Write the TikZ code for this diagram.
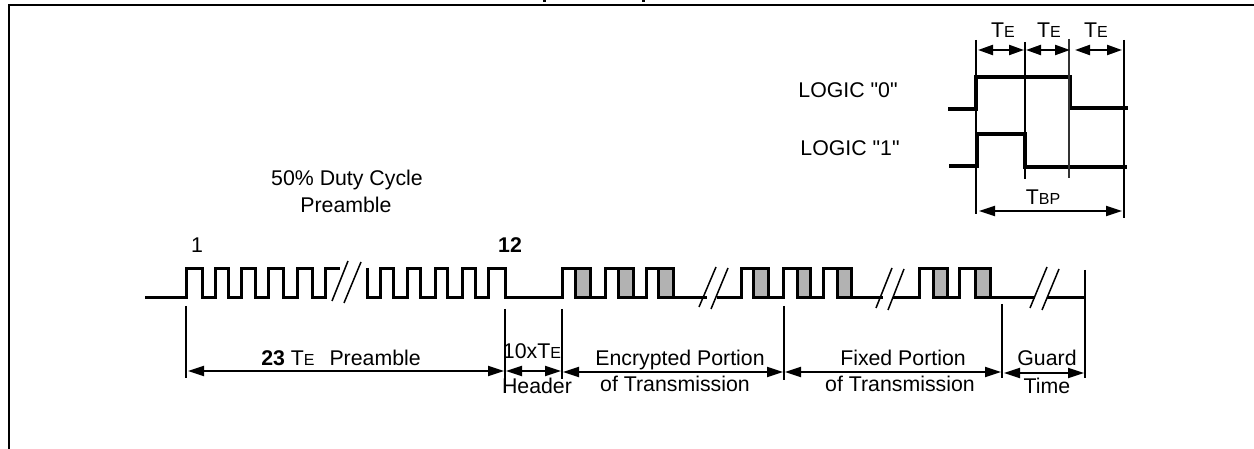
\documentclass[tikz,border=0pt]{standalone}
\usepackage{fontspec}
\setmainfont{Liberation Sans}
\newfontfamily\rawfont{Liberation Sans}
\usetikzlibrary{arrows.meta}
\newcommand{\subE}[1]{T{\fontsize{16}{16}\selectfont #1}}
\newcommand{\dq}{{\rawfont\symbol{34}}}
\tikzset{
  x=1pt,y=-1pt,
  lab/.style={inner sep=0pt,outer sep=0pt,anchor=base,font=\fontsize{21.3}{25}\selectfont,text=black},
  sig/.style={line width=3pt,line join=miter,line cap=butt},
  insetsig/.style={line width=3.2pt,line join=miter},
  tick/.style={line width=2pt},
  thintick/.style={line width=1.1pt,draw=black!80},
  brk/.style={line width=1.5pt},
  frame/.style={line width=2.6pt},
  dim/.style={line width=2pt,{Stealth[length=16pt,width=10pt,inset=0pt]}-{Stealth[length=16pt,width=10pt,inset=0pt]}},
  dimS/.style={line width=2.2pt,{Stealth[length=15pt,width=10pt,inset=0pt]}-{Stealth[length=15pt,width=10pt,inset=0pt]}},
  shade/.style={fill=black!30,draw=none},
}
\begin{document}
\begin{tikzpicture}
\useasboundingbox (0,0) rectangle (1254,449);
% page frame
\coordinate (ftl) at (9,5); \coordinate (ftr) at (1254,5); \coordinate (fbl) at (9,449);
\draw[frame] (ftr) -- (ftl) -- (fbl);
\fill (543,0) rectangle (546,2);
\fill (642,0) rectangle (645,2);

% grey parts of the data pulses
\foreach \a/\b in {575/590,618/633,658/673,753/768,797/810,837/851,933/947,975/990}
  \fill[shade] (\a,269) rectangle (\b,298);

% main waveform
\draw[sig] (145,298) -- (186,298) -- (186,269) -- (202,269) -- (202,298) -- (215,298) -- (215,269)
  -- (228,269) -- (228,298) -- (241,298) -- (241,269) -- (255,269) -- (255,298) -- (268,298) -- (268,269)
  -- (283,269) -- (283,298) -- (297,298) -- (297,269) -- (312,269) -- (312,298) -- (325,298) -- (325,269) -- (340,269);
\draw[sig] (367,268) -- (367,298) -- (380,298) -- (380,269) -- (393,269) -- (393,298) -- (407,298) -- (407,269)
  -- (420,269) -- (420,298) -- (435,298) -- (435,269) -- (447,269) -- (447,298) -- (462,298) -- (462,269)
  -- (475,269) -- (475,298) -- (488,298) -- (488,269) -- (505,269) -- (505,298) -- (562,298) -- (562,269)
  -- (590,269) -- (590,298) -- (575,298) -- (575,269);
\draw[sig] (590,298) -- (605,298) -- (605,269) -- (633,269) -- (633,298) -- (618,298) -- (618,269);
\draw[sig] (633,298) -- (646,298) -- (646,269) -- (673,269) -- (673,298) -- (658,298) -- (658,269);
\draw[sig] (673,298) -- (707,298);
\draw[sig] (717,298) -- (741,298) -- (741,269) -- (768,269) -- (768,298) -- (753,298) -- (753,269);
\draw[sig] (768,298) -- (783,298) -- (783,269) -- (810,269) -- (810,298) -- (797,298) -- (797,269);
\draw[sig] (810,298) -- (823,298) -- (823,269) -- (851,269) -- (851,298) -- (837,298) -- (837,269);
\draw[sig] (851,298) -- (883,298);
\draw[sig] (893,298) -- (919,298) -- (919,269) -- (947,269) -- (947,298) -- (933,298) -- (933,269);
\draw[sig] (947,298) -- (959,298) -- (959,269) -- (990,269) -- (990,298) -- (975,298) -- (975,269);
\draw[sig] (990,298) -- (1035,298);
\draw[sig] (1047,298) -- (1085,298);

% break marks
\foreach \xa/\ya/\xb/\yb in {332/301/348/261,344/303/361/262,699/307/716/267,711/309/728/268,876/308/892/268,888/310/904/269,1030/308/1047/267,1042/310/1059/269}
  \draw[brk] (\xa,\ya) -- (\xb,\yb);

% dimension ticks
\coordinate (t1a) at (186,306); \coordinate (t1b) at (186,378);
\coordinate (t2a) at (505,309); \coordinate (t2b) at (505,393);
\coordinate (t3a) at (562,309); \coordinate (t3b) at (562,379);
\coordinate (t4a) at (784,306); \coordinate (t4b) at (784,380);
\coordinate (t5a) at (1002,304); \coordinate (t5b) at (1002,378);
\coordinate (t6a) at (1085,270); \coordinate (t6b) at (1085,378);
\foreach \n in {1,...,6} \draw[tick] (t\n a) -- (t\n b);

% dimension arrows
\coordinate (d1a) at (188,371); \coordinate (d1b) at (504,371);
\coordinate (d2a) at (506,371); \coordinate (d2b) at (561,371);
\coordinate (d3a) at (563,372); \coordinate (d3b) at (783,372);
\coordinate (d4a) at (785,372); \coordinate (d4b) at (1001,372);
\coordinate (d5a) at (1004,373); \coordinate (d5b) at (1084,373);
\foreach \n in {1,...,5} \draw[dim] (d\n a) -- (d\n b);

% waveform labels
\node[lab] (n1) at (197,253) {1};
\node[lab] (n12) at (510,253) {\textbf{12}};
\node[lab] (pre1) at (347,186) {50\% Duty Cycle};
\node[lab] (pre2) at (346,213) {Preamble};
\node[lab] (lpre) at (341,365) {\textbf{23} \subE{E}\hspace{0.7em}Preamble};
\node[lab] (l10) at (532,359) {10x\subE{E}};
\node[lab] (lhead) at (537,393) {Header};
\node[lab] (lenc1) at (680,365) {Encrypted Portion};
\node[lab] (lenc2) at (675,391) {of Transmission};
\node[lab] (lfix1) at (903,365) {Fixed Portion};
\node[lab] (lfix2) at (900,391) {of Transmission};
\node[lab] (lg1) at (1047,365) {Guard};
\node[lab] (lg2) at (1047,393) {Time};

% inset
\draw[insetsig] (948,109) -- (976,109) -- (976,77) -- (1072,77);
\draw[insetsig] (1070,77) -- (1070,108) -- (1128,108);
\draw[insetsig] (949,166) -- (977,166) -- (977,134) -- (1025,134) -- (1025,167) -- (1127,167);
\coordinate (i1a) at (976,40); \coordinate (i1b) at (976,214);
\coordinate (i2a) at (1025,42); \coordinate (i2b) at (1025,179);
\coordinate (i3a) at (1069,39); \coordinate (i3b) at (1069,178);
\coordinate (i4a) at (1124,40); \coordinate (i4b) at (1124,218);
\draw[tick] (i1a) -- (i1b);
\draw[tick] (i2a) -- (i2b);
\draw[thintick] (i3a) -- (i3b);
\draw[tick] (i4a) -- (i4b);
\coordinate (e1a) at (978,50); \coordinate (e1b) at (1024,50);
\coordinate (e2a) at (1026,50); \coordinate (e2b) at (1070,50);
\coordinate (e3a) at (1075,50); \coordinate (e3b) at (1122,50);
\coordinate (bpa) at (979,211); \coordinate (bpb) at (1122,211);
\foreach \n in {1,2,3} \draw[dimS] (e\n a) -- (e\n b);
\draw[dim] (bpa) -- (bpb);
\node[lab] (te1) at (1003,38) {\subE{E}};
\node[lab] (te2) at (1049,38) {\subE{E}};
\node[lab] (te3) at (1096,38) {\subE{E}};
\node[lab] (tbp) at (1043,205) {\subE{BP}};
\node[lab] (l0) at (848,98) {LOGIC \dq0\dq};
\node[lab] (l1) at (850,156) {LOGIC \dq1\dq};
\end{tikzpicture}
\end{document}
